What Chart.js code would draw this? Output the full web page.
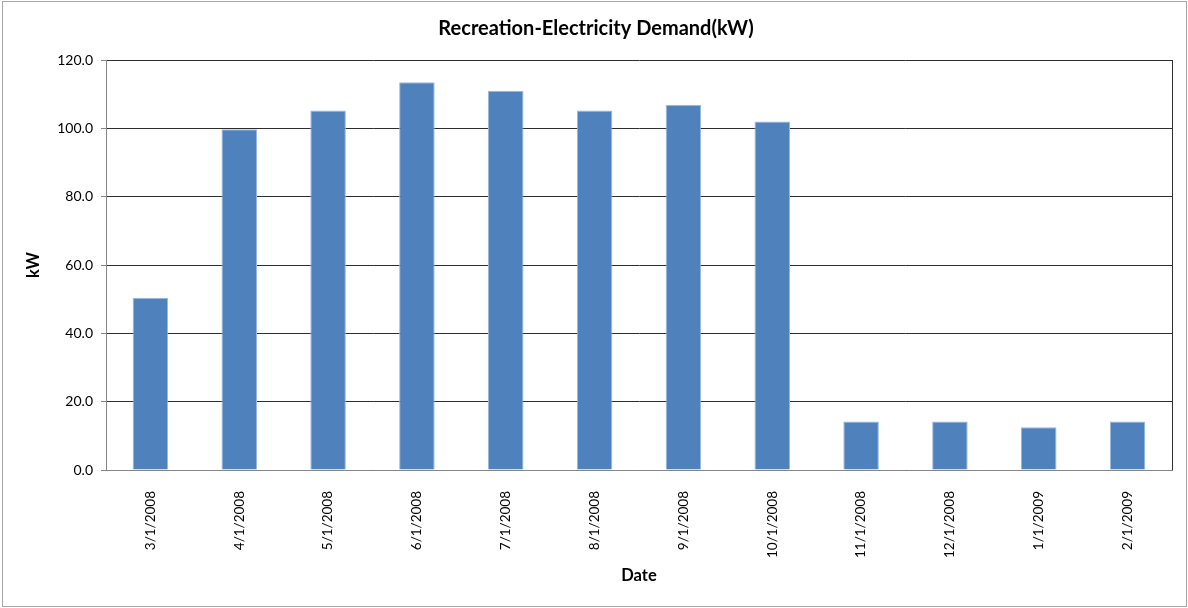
<!DOCTYPE html>
<html>
<head>
<meta charset="utf-8">
<script src="https://cdn.jsdelivr.net/npm/chart.js@4/dist/chart.umd.min.js"></script>
<style>
  html, body { margin: 0; padding: 0; background: #ffffff; }
  #wrap { width: 1188px; height: 608px; }
</style>
</head>
<body>
<div id="wrap"><canvas id="c" width="1188" height="608"></canvas></div>
<script>
// Monthly recreation electricity demand, kW
const months = ['3/1/2008', '4/1/2008', '5/1/2008', '6/1/2008', '7/1/2008', '8/1/2008',
                '9/1/2008', '10/1/2008', '11/1/2008', '12/1/2008', '1/1/2009', '2/1/2009'];
const demandKW = [50.4, 99.7, 105.2, 113.5, 111.0, 105.2, 106.9, 102.0, 14.2, 14.2, 12.5, 14.2];
const yTicks = [0, 20, 40, 60, 80, 100, 120];

const FONT = "Lato, 'Open Sans', 'DejaVu Sans', sans-serif";

// White page with a thin outer frame, plus the dark right edge of the plot area
const framePlugin = {
  id: 'frame',
  beforeDraw(chart) {
    const ctx = chart.ctx;
    ctx.save();
    ctx.fillStyle = '#ffffff';
    ctx.fillRect(0, 0, chart.width, chart.height);
    ctx.strokeStyle = '#a6a6a6';
    ctx.lineWidth = 1;
    ctx.strokeRect(2.5, 1.5, chart.width - 4, chart.height - 3);
    ctx.restore();
  },
  afterDatasetsDraw(chart) {
    const a = chart.chartArea;
    const ctx = chart.ctx;
    ctx.save();
    ctx.strokeStyle = '#303030';
    ctx.lineWidth = 1;
    ctx.beginPath();
    ctx.moveTo(Math.round(a.right) + 0.5, a.top);
    ctx.lineTo(Math.round(a.right) + 0.5, a.bottom);
    ctx.stroke();
    ctx.restore();
  }
};

new Chart(document.getElementById('c'), {
  type: 'bar',
  data: {
    labels: months,
    datasets: [{
      label: 'kW',
      data: demandKW,
      backgroundColor: '#4f81bd',
      borderColor: '#9bb8de',
      borderWidth: 1,
      categoryPercentage: 1.0,
      barPercentage: 0.4
    }]
  },
  options: {
    responsive: false,
    animation: false,
    layout: { padding: { left: 20, right: 16, top: 0, bottom: 18 } },
    plugins: {
      legend: { display: false },
      tooltip: { enabled: false },
      title: {
        display: true,
        text: 'Recreation-Electricity Demand(kW)',
        color: '#000000',
        font: { family: FONT, size: 20, weight: 'bold' },
        padding: { top: 17, bottom: 19 }
      }
    },
    scales: {
      x: {
        grid: { display: false },
        border: { display: true, color: '#868686', width: 1 },
        ticks: {
          color: '#000000',
          font: { family: FONT, size: 13.5 },
          minRotation: 90,
          maxRotation: 90,
          padding: 13,
          autoSkip: false
        },
        title: {
          display: true,
          text: 'Date',
          color: '#000000',
          font: { family: FONT, size: 16.5, weight: 'bold' },
          padding: { top: 4, bottom: 4 }
        },
        afterFit(scale) { scale.height = 608 - 470 - 18; }
      },
      y: {
        min: 0,
        max: 120,
        afterBuildTicks(scale) { scale.ticks = yTicks.map(v => ({ value: v })); },
        grid: {
          color: '#2e2e2e',
          tickColor: '#868686',
          tickLength: 5,
          drawTicks: true
        },
        border: { display: true, color: '#868686', width: 1 },
        ticks: {
          color: '#000000',
          font: { family: FONT, size: 14 },
          padding: 8,
          callback: v => Number(v).toFixed(1)
        },
        title: {
          display: true,
          text: 'kW',
          color: '#000000',
          font: { family: FONT, size: 16.5, weight: 'bold' },
          padding: { top: 4, bottom: 4 }
        },
        afterFit(scale) { scale.width = 106 - 20; }
      }
    }
  },
  plugins: [framePlugin]
});
</script>
</body>
</html>
